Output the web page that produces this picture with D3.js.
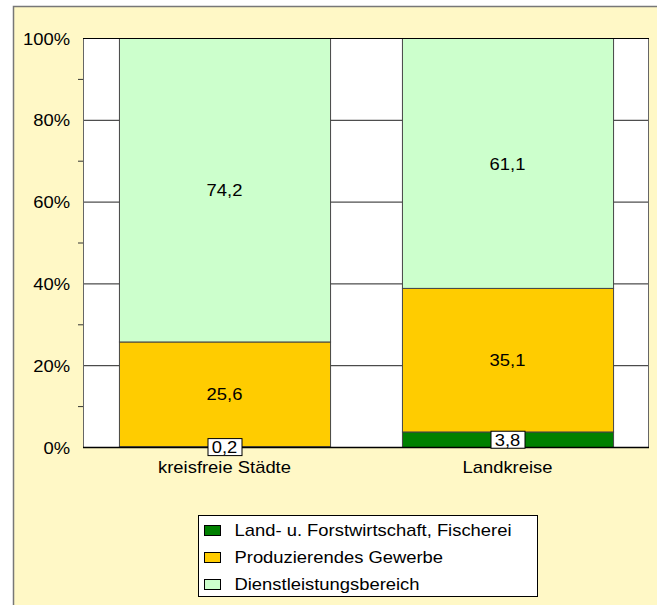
<!DOCTYPE html>
<head>
<meta charset="utf-8">
<style>
  body { margin: 0; background: #fff; }
  svg { display: block; font-family: Arial, "Liberation Sans", sans-serif; }
</style>
</head>
<body>
<svg width="657" height="605"></svg>
<script src="https://d3js.org/d3.v7.min.js"></script>
<script>

// chart data
var categories = ["kreisfreie Städte", "Landkreise"];
var seriesNames = ["Land- u. Forstwirtschaft, Fischerei", "Produzierendes Gewerbe", "Dienstleistungsbereich"];
var agri = [0.2, 3.8];
var prod = [25.6, 35.1];
var serv = [74.2, 61.1];
var yTicks = [0, 20, 40, 60, 80, 100];
var colors = ["#008000", "#FFCC00", "#CCFFCC"];

var svg = d3.select("svg");
var sx = 1.15; // text in the original is a bit wide

var margin = {left: 83, top: 38, right: 8, bottom: 158};
var width = 657 - margin.left - margin.right,
    height = 605 - margin.top - margin.bottom;

// background
svg.append("rect")
    .attr("x", 13.5).attr("y", 6.5)
    .attr("width", 660).attr("height", 620)
    .attr("fill", "#FFF8C6")
    .attr("stroke", "#777").attr("stroke-width", 1.5);

var g = svg.append("g").attr("transform", "translate(" + margin.left + "," + margin.top + ")");

var x = d3.scaleBand().domain(categories).range([0, width]).paddingInner(0.254).paddingOuter(0.127);
var y = d3.scaleLinear().domain([0, 100]).range([height, 0]);

g.append("rect").attr("width", width).attr("height", height).attr("fill", "#fff");

// grid
g.selectAll(".grid").data(yTicks.slice(1))
  .enter().append("line")
    .attr("x1", 0).attr("x2", width)
    .attr("y1", function(d) { return y(d) + 0.5; })
    .attr("y2", function(d) { return y(d) + 0.5; })
    .attr("stroke", "#222").attr("stroke-width", 1);

// plot border sides
g.append("line").attr("x1", 0.5).attr("x2", 0.5).attr("y1", 0).attr("y2", height).attr("stroke", "#666");
g.append("line").attr("x1", width - 0.5).attr("x2", width - 0.5).attr("y1", 0).attr("y2", height).attr("stroke", "#666");

// minor ticks at 10%
g.selectAll(".minor").data(d3.range(10, 100, 20))
  .enter().append("line")
    .attr("x1", -5).attr("x2", 0)
    .attr("y1", function(d) { return y(d) + 0.5; })
    .attr("y2", function(d) { return y(d) + 0.5; })
    .attr("stroke", "#333");

var rows = categories.map(function(c, i) {
  return {cat: c, a: agri[i], p: prod[i], s: serv[i]};
});
var stack = d3.stack().keys(["a", "p", "s"])(rows);

var layer = g.selectAll(".layer").data(stack)
  .enter().append("g")
    .attr("fill", function(d, i) { return colors[i]; });

layer.selectAll("rect").data(function(d) { return d; })
  .enter().append("rect")
    .attr("x", function(d) { return x(d.data.cat) + 0.5; })
    .attr("width", x.bandwidth())
    .attr("y", function(d) { return y(d[1]) + 0.5; })
    .attr("height", function(d) { return y(d[0]) - y(d[1]); })
    .attr("stroke", "#444").attr("stroke-width", 1);

// top and bottom lines
g.append("line").attr("x1", 0).attr("x2", width).attr("y1", 0.5).attr("y2", 0.5).attr("stroke", "#000");
g.append("line").attr("x1", 0).attr("x2", width).attr("y1", height + 0.5).attr("y2", height + 0.5)
    .attr("stroke", "#000").attr("stroke-width", 1.5);

function label(parent, px, py, txt, anchor) {
  return parent.append("text")
      .attr("transform", "translate(" + px + "," + py + ") scale(" + sx + ",1)")
      .attr("text-anchor", anchor || "middle")
      .attr("dy", "0.35em")
      .attr("font-size", 16)
      .attr("fill", "#000")
      .text(txt);
}

// value labels
stack.forEach(function(ser) {
  ser.forEach(function(d) {
    var v = d[1] - d[0];
    var cx = x(d.data.cat) + x.bandwidth() / 2;
    var cy = (y(d[0]) + y(d[1])) / 2;
    var txt = String(v.toFixed(1)).replace(".", ",");
    if (v < 10) {
      var w = 34, h = 17;
      g.append("rect")
          .attr("x", cx - w / 2 + 0.5).attr("y", cy - h / 2 + 0.5)
          .attr("width", w).attr("height", h)
          .attr("fill", "#fff").attr("stroke", "#000");
    }
    label(g, cx, cy + 1, txt);
  });
});

// y axis labels
yTicks.forEach(function(t) {
  label(g, -13, y(t) + 1, t + "%", "end");
});

// x axis labels
categories.forEach(function(c) {
  label(g, x(c) + x.bandwidth() / 2, height + 20, c);
});

// legend
var leg = svg.append("g").attr("transform", "translate(198.5,515.5)");
leg.append("rect").attr("width", 339).attr("height", 81).attr("fill", "#fff").attr("stroke", "#000");
seriesNames.forEach(function(n, i) {
  var ly = 15 + i * 27;
  leg.append("rect")
      .attr("x", 6).attr("y", ly - 5)
      .attr("width", 16).attr("height", 10)
      .attr("fill", colors[i]).attr("stroke", "#000");
  label(leg, 36, ly, n, "start");
});

</script>
</body>
